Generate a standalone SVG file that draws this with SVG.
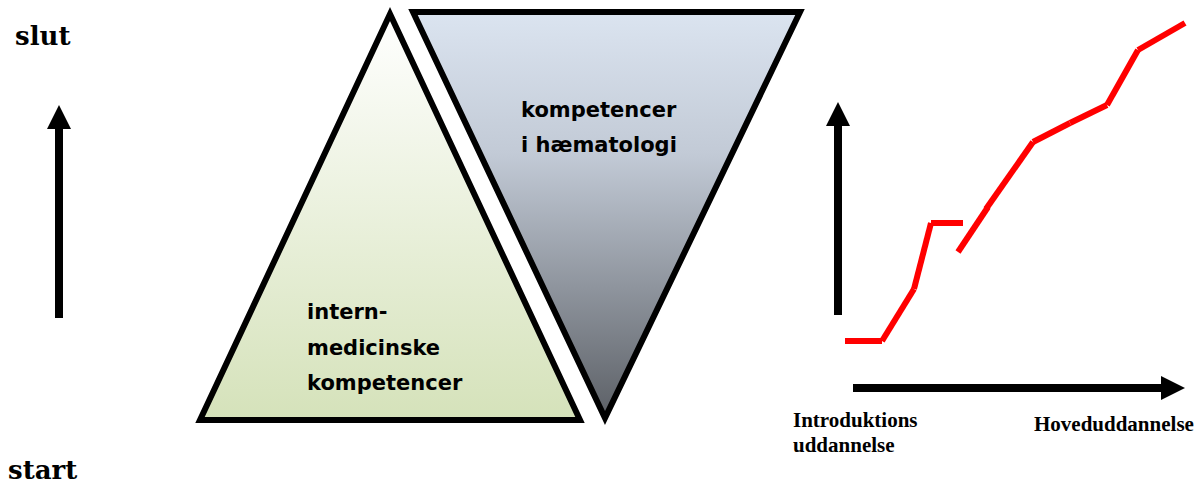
<svg xmlns="http://www.w3.org/2000/svg" width="1203" height="484" viewBox="0 0 1203 484">
  <defs>
    <linearGradient id="gGreen" x1="0" y1="0" x2="0" y2="1">
      <stop offset="0" stop-color="#ffffff"/>
      <stop offset="1" stop-color="#d5e2ba"/>
    </linearGradient>
    <linearGradient id="gBlue" x1="0" y1="0" x2="0" y2="1">
      <stop offset="0" stop-color="#dbe4f0"/>
      <stop offset="0.35" stop-color="#c2cad6"/>
      <stop offset="1" stop-color="#5c6066"/>
    </linearGradient>
    <marker id="ah" viewBox="0 0 10 10" refX="0" refY="5" markerWidth="3" markerHeight="3" orient="auto" markerUnits="strokeWidth">
      <path d="M0,0 L10,5 L0,10 Z" fill="#000"/>
    </marker>
  </defs>
  <style>
    .tri { stroke: #000; stroke-width: 6; stroke-linejoin: miter; }
    .arrow { stroke: #000; stroke-width: 8; fill: none; }
    .red { stroke: #ff0000; stroke-width: 6; fill: none; stroke-linecap: butt; }
    .serifBig { font-family: "DejaVu Serif", serif; font-weight: bold; font-size: 26px; fill: #000; }
    .comic { font-family: "DejaVu Sans", sans-serif; font-weight: bold; font-size: 21px; fill: #000; }
    .times { font-family: "Liberation Serif", serif; font-weight: bold; font-size: 21px; fill: #000; }
  </style>

  <g id="label-slut"><text class="serifBig" x="15" y="45">slut</text></g>
  <g id="label-start"><text class="serifBig" x="8" y="479">start</text></g>

  <g id="triangle-intern">
    <polygon class="tri" fill="url(#gGreen)" points="390,14 580,420 200,420"/>
    <text class="comic" x="307" y="319">intern-</text>
    <text class="comic" x="307" y="355">medicinske</text>
    <text class="comic" x="307" y="390">kompetencer</text>
  </g>

  <g id="triangle-haematologi">
    <polygon class="tri" fill="url(#gBlue)" points="413,12 800,12 605,418"/>
    <text class="comic" x="521" y="117">kompetencer</text>
    <text class="comic" x="521" y="152">i hæmatologi</text>
  </g>

  <g id="label-intro">
    <text class="times" x="793" y="427">Introduktions</text>
    <text class="times" x="793" y="452">uddannelse</text>
  </g>
  <g id="label-hoved"><text class="times" x="1034" y="431">Hoveduddannelse</text></g>

  <g id="connectors">
    <line class="arrow" x1="59" y1="318" x2="59" y2="129" marker-end="url(#ah)"/>
    <line class="arrow" x1="838" y1="315" x2="838" y2="126" marker-end="url(#ah)"/>
    <line class="arrow" x1="853" y1="388" x2="1161" y2="388" marker-end="url(#ah)"/>
    <g id="red-curve">
      <line class="red" x1="845" y1="341" x2="882" y2="341"/>
      <line class="red" x1="882" y1="341" x2="914" y2="289"/>
      <line class="red" x1="914" y1="289" x2="931" y2="223"/>
      <line class="red" x1="931" y1="223" x2="963" y2="223"/>
      <line class="red" x1="958" y1="252" x2="988" y2="207"/>
      <line class="red" x1="986" y1="209" x2="1033" y2="142"/>
      <line class="red" x1="1033" y1="142" x2="1070" y2="123"/>
      <line class="red" x1="1070" y1="123" x2="1107" y2="105"/>
      <line class="red" x1="1107" y1="105" x2="1138" y2="50"/>
      <line class="red" x1="1138" y1="50" x2="1185" y2="23"/>
    </g>
  </g>
</svg>
